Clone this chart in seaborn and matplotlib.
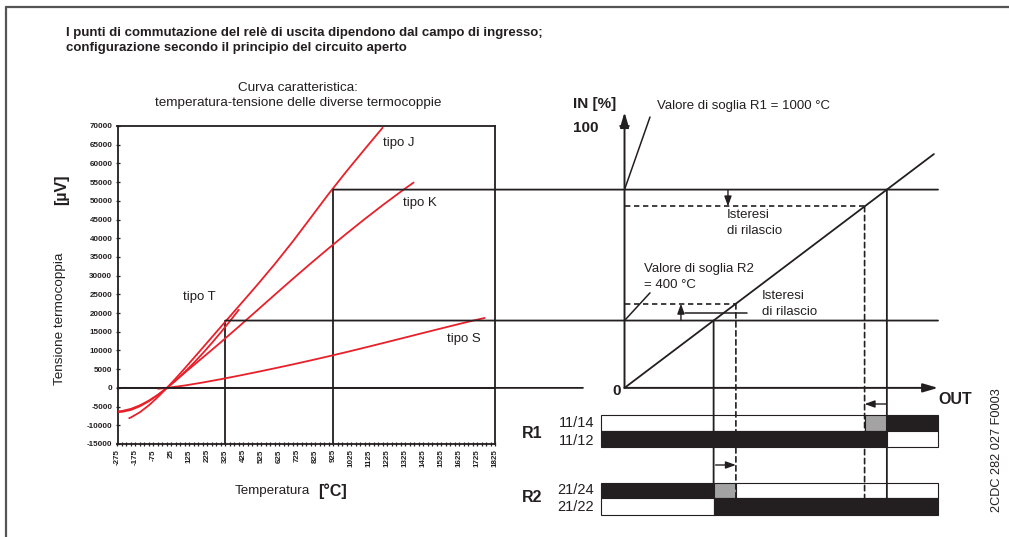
import matplotlib
matplotlib.use("Agg")
import matplotlib.pyplot as plt
from matplotlib.lines import Line2D
from matplotlib.patches import ConnectionPatch, Rectangle
import numpy as np
import pandas as pd
import seaborn as sns

# ---------------------------------------------------------------------------
# Thermocouple characteristic curves: temperature [°C] -> EMF [µV]
# ---------------------------------------------------------------------------
temp_j = [-210, -200, -150, -100, -50, 0, 50, 100, 200, 300, 400, 500, 600,
          700, 800, 900, 1000, 1100, 1200]
emf_j = [-8095, -7890, -6500, -4633, -2431, 0, 2585, 5269, 10779, 16327,
         21848, 27393, 33102, 39132, 45494, 51877, 57953, 63792, 69553]

temp_k = [-270, -250, -200, -150, -100, -50, 0, 50, 100, 200, 300, 400, 500,
          600, 700, 800, 900, 1000, 1100, 1200, 1300, 1372]
emf_k = [-6458, -6404, -5891, -4913, -3554, -1889, 0, 2023, 4096, 8138,
         12209, 16397, 20644, 24905, 29129, 33275, 37326, 41276, 45119,
         48838, 52410, 54886]

temp_t = [-270, -250, -200, -150, -100, -50, 0, 50, 100, 150, 200, 250, 300,
          350, 400]
emf_t = [-6258, -6180, -5603, -4648, -3379, -1819, 0, 2036, 4279, 6704, 9288,
         12013, 14862, 17819, 20872]

temp_s = [-50, 0, 100, 200, 300, 400, 500, 600, 700, 800, 900, 1000, 1100,
          1200, 1300, 1400, 1500, 1600, 1700, 1768]
emf_s = [-236, 0, 646, 1441, 2323, 3259, 4233, 5239, 6275, 7345, 8449, 9587,
         10757, 11951, 13159, 14373, 15582, 16777, 17947, 18693]

curve_names = ["tipo J", "tipo K", "tipo T", "tipo S"]

x_tick_values = list(range(-275, 1826, 100))
x_tick_labels = [str(v) for v in x_tick_values]
y_tick_values = list(range(-15000, 70001, 5000))
y_tick_labels = [str(v) for v in y_tick_values]

# Switching points (µV) and the matching temperatures on the tipo J curve
threshold_r1 = 53000
release_r1 = 48500
threshold_r2 = 18000
release_r2 = 22500
temp_r1 = 925
temp_r2 = 325

# ---------------------------------------------------------------------------
sns.set_theme(style="white")
plt.rcParams["font.family"] = ["Liberation Sans", "DejaVu Sans"]

INK = "#231f20"
RED = "#e8202a"
GREY = "#a3a3a3"

W, H = 1009, 537
fig = plt.figure(figsize=(W / 100, H / 100), dpi=100)
fig.patch.set_facecolor("white")


def fx(px):
    return px / W


def fy(py):
    return 1 - py / H


# outer frame (top and left edges)
fig.add_artist(Line2D([fx(6), fx(6)], [fy(7), 0], color="#555555", lw=1.6))
fig.add_artist(Line2D([fx(6), 1], [fy(7), fy(7)], color="#555555", lw=1.6))

# ---------------------------------------------------------------------------
# Left panel: thermocouple curves
# ---------------------------------------------------------------------------
ax = fig.add_axes([fx(117.5), fy(444), 377.5 / W, 318 / H])
frames = []
for name, tt, e in zip(curve_names, [temp_j, temp_k, temp_t, temp_s],
                       [emf_j, emf_k, emf_t, emf_s]):
    frames.append(pd.DataFrame({"temp": tt, "emf": e, "tipo": name}))
curves = pd.concat(frames, ignore_index=True)

sns.lineplot(data=curves, x="temp", y="emf", hue="tipo", units="tipo",
             estimator=None, sort=False, palette={n: RED for n in curve_names},
             linewidth=1.3, legend=False, ax=ax, zorder=3)

ax.set_xlim(-275, 1825)
ax.set_ylim(-15000, 70000)
ax.set_xlabel("")
ax.set_ylabel("")
for s in ax.spines.values():
    s.set_color(INK)
    s.set_linewidth(1.3)
    s.set_visible(True)

tick_font = dict(family=["Liberation Sans", "DejaVu Sans"],
                 weight="bold", size=5.8)
ax.set_xticks(x_tick_values)
ax.set_xticklabels(x_tick_labels, rotation=90, fontdict=tick_font, color=INK)
ax.set_xticks(np.arange(-275, 1826, 25), minor=True)
ax.set_yticks(y_tick_values)
ax.set_yticklabels(y_tick_labels, fontdict=tick_font, color=INK)
ax.tick_params(axis="both", which="both", direction="inout", length=3.5,
               width=0.9, color=INK, pad=2, bottom=True, left=True)
ax.tick_params(axis="x", which="minor", length=3)

# reference lines: zero line and the two switching temperatures
ax.axhline(0, color=INK, lw=1.3, zorder=2)
ax.plot([temp_r2, temp_r2], [-15000, threshold_r2], color=INK, lw=1.3, zorder=2)
ax.plot([temp_r1, temp_r1], [-15000, threshold_r1], color=INK, lw=1.3, zorder=2)

label_pos = {"tipo J": (1202, 65500), "tipo K": (1313, 49400),
             "tipo T": (89, 24300), "tipo S": (1557, 13100)}
for name, (tx, ty) in label_pos.items():
    ax.text(tx, ty, name, fontsize=9.5, color=INK, ha="left", va="center")

# ---------------------------------------------------------------------------
# Right panel: IN / OUT switching diagram (IN in µV, OUT on the same scale)
# ---------------------------------------------------------------------------
out_min, out_max = -4750, 63330
axr = fig.add_axes([fx(601), fy(444), 337 / W, 318 / H], sharey=ax)
axr.set_xlim(out_min, out_max)
axr.axis("off")

# relay contact rows
axb = fig.add_axes([fx(601), fy(515), 337 / W, 100 / H], sharex=axr)
axb.set_ylim(100, 0)
axb.axis("off")


def link(xa, ya, axa, xb, yb, axb_, **kw):
    cp = ConnectionPatch(xyA=(xa, ya), coordsA=axa.transData,
                         xyB=(xb, yb), coordsB=axb_.transData,
                         color=INK, lw=kw.pop("lw", 1.3), shrinkA=0, shrinkB=0,
                         **kw)
    fig.add_artist(cp)


# horizontal level lines running across both panels
link(-275, 0, ax, -8400, 0, axr)
link(temp_r2, threshold_r2, ax, out_max, threshold_r2, axr)
link(temp_r1, threshold_r1, ax, out_max, threshold_r1, axr)

arrow_kw = dict(arrowstyle="-|>,head_length=0.75,head_width=0.22", color=INK,
                lw=1.4, shrinkA=0, shrinkB=0)
axr.annotate("", xy=(0, 73700), xytext=(0, 0), arrowprops=arrow_kw,
             annotation_clip=False)
axr.annotate("", xy=(out_max, 0), xytext=(0, 0), arrowprops=arrow_kw,
             annotation_clip=False)
axr.plot([-1000, 1000], [70000, 70000], color=INK, lw=1.2, clip_on=False)

# transfer line IN = OUT
axr.plot([0, 62500], [0, 62500], color=INK, lw=1.3, clip_on=False)

# release (hysteresis) levels
dash = (0, (3.2, 2.2))
axr.plot([0, release_r1], [release_r1, release_r1], color=INK, lw=1.2,
         ls=dash, clip_on=False)
axr.plot([0, release_r2], [release_r2, release_r2], color=INK, lw=1.2,
         ls=dash, clip_on=False)

# vertical drops into the relay rows
link(threshold_r2, threshold_r2, axr, threshold_r2, 83, axb)
link(threshold_r1, threshold_r1, axr, threshold_r1, 83, axb)
link(release_r1, release_r1, axr, release_r1, 83, axb, ls=dash, lw=1.2)
link(release_r2, release_r2, axr, release_r2, 83, axb, ls=dash, lw=1.2)

# threshold pointer lines
axr.plot([0, 5150], [threshold_r1, 72400], color=INK, lw=1.1, clip_on=False)
axr.plot([0, 5150], [threshold_r2, 25400], color=INK, lw=1.1, clip_on=False)

# hysteresis arrows
small_arrow = dict(arrowstyle="-|>,head_length=0.5,head_width=0.18",
                   color=INK, lw=1.0, shrinkA=0, shrinkB=0)
axr.annotate("", xy=(20900, release_r1), xytext=(20900, threshold_r1),
             arrowprops=small_arrow, annotation_clip=False)
axr.annotate("", xy=(11400, release_r2), xytext=(11400, threshold_r2),
             arrowprops=small_arrow, annotation_clip=False)
axr.plot([12200, 24700], [20000, 20000], color=INK, lw=1.1, clip_on=False)

# relay contact states along OUT
rows = {"11/14": (0, 16), "11/12": (16, 16), "21/24": (68, 15), "21/22": (83, 17)}
states = {
    "11/14": [(out_min, release_r1, "white"), (release_r1, threshold_r1, GREY),
              (threshold_r1, out_max, INK)],
    "11/12": [(out_min, threshold_r1, INK), (threshold_r1, out_max, "white")],
    "21/24": [(out_min, threshold_r2, INK), (threshold_r2, release_r2, GREY),
              (release_r2, out_max, "white")],
    "21/22": [(out_min, threshold_r2, "white"), (threshold_r2, out_max, INK)],
}
for key, segs in states.items():
    top, h = rows[key]
    for a, b, c in segs:
        axb.add_patch(Rectangle((a, top), b - a, h, facecolor=c,
                                edgecolor=INK, lw=0.8, clip_on=False))

axb.annotate("", xy=(release_r1, -11), xytext=(52800, -11),
             arrowprops=small_arrow, annotation_clip=False)
axb.annotate("", xy=(release_r2, 50), xytext=(threshold_r2 + 400, 50),
             arrowprops=small_arrow, annotation_clip=False)

# ---------------------------------------------------------------------------
# Texts
# ---------------------------------------------------------------------------
def t(px, py, s, **kw):
    kw.setdefault("color", INK)
    kw.setdefault("va", "center")
    fig.text(fx(px), fy(py), s, **kw)


t(66, 33, "I punti di commutazione del relè di uscita dipendono dal campo di ingresso;",
  fontsize=9.5, weight="bold")
t(66, 48, "configurazione secondo il principio del circuito aperto",
  fontsize=9.5, weight="bold")

t(298, 88, "Curva caratteristica:", fontsize=9.7, ha="center")
t(298, 103, "temperatura-tensione delle diverse termocoppie", fontsize=9.7,
  ha="center")

t(62, 190, "[µV]", fontsize=11.5, weight="bold", rotation=90, ha="center")
t(60, 319, "Tensione termocoppia", fontsize=9.7, rotation=90, ha="center")
t(235, 491, "Temperatura", fontsize=9.6, ha="left")
t(318, 491, "[°C]", fontsize=11.5, weight="bold", ha="left")

t(573, 104, "IN [%]", fontsize=11, weight="bold", ha="left")
t(573, 128, "100", fontsize=11, weight="bold", ha="left")
t(621, 391, "0", fontsize=11, weight="bold", ha="right")
t(938, 399, "OUT", fontsize=11.5, weight="bold", ha="left")

t(657, 106, "Valore di soglia R1 = 1000 °C", fontsize=9.5, ha="left")
t(727, 215, "Isteresi", fontsize=9.5, ha="left")
t(727, 231, "di rilascio", fontsize=9.5, ha="left")
t(644, 269, "Valore di soglia R2", fontsize=9.5, ha="left")
t(644, 285, "= 400 °C", fontsize=9.5, ha="left")
t(762, 296, "Isteresi", fontsize=9.5, ha="left")
t(762, 312, "di rilascio", fontsize=9.5, ha="left")

t(522, 433, "R1", fontsize=11.5, weight="bold", ha="left")
t(594, 423, "11/14", fontsize=10.5, ha="right")
t(594, 441, "11/12", fontsize=10.5, ha="right")
t(522, 497, "R2", fontsize=11.5, weight="bold", ha="left")
t(594, 490, "21/24", fontsize=10.5, ha="right")
t(594, 507, "21/22", fontsize=10.5, ha="right")

t(997, 450, "2CDC 282 027 F0003", fontsize=9.2, rotation=90, ha="center")

fig.savefig("out.png", dpi=100, facecolor="white")
